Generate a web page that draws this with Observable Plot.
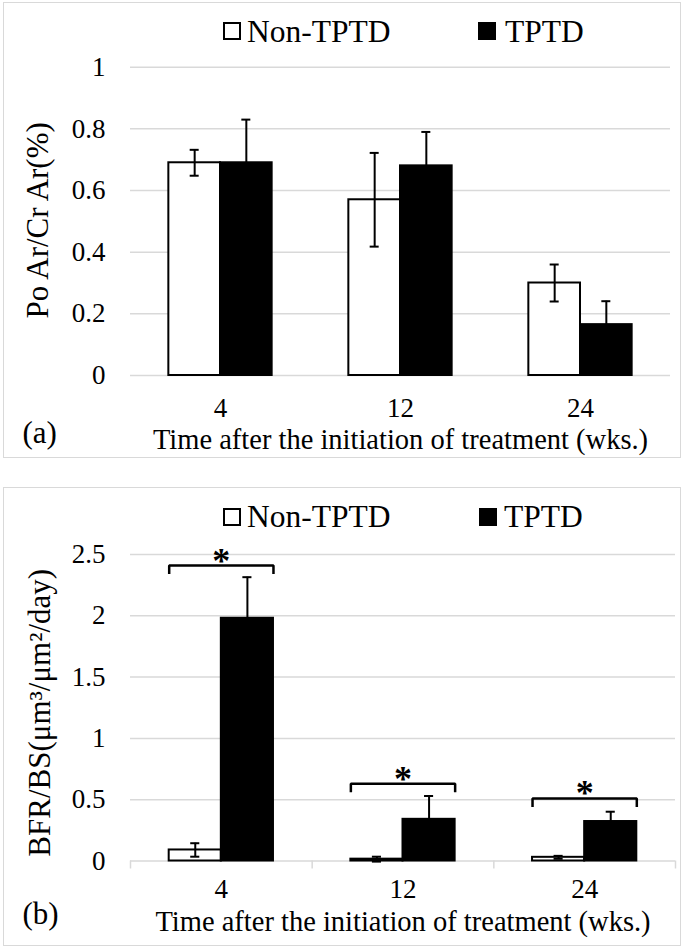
<!DOCTYPE html>
<html><head><meta charset="utf-8">
<script src="https://cdn.jsdelivr.net/npm/d3@7"></script>
<script src="https://cdn.jsdelivr.net/npm/@observablehq/plot@0.6"></script>
<style>
html,body{margin:0;padding:0;background:#fff;}
body{width:685px;height:949px;position:relative;overflow:hidden;font-family:"Liberation Serif","Tinos","Times New Roman","DejaVu Serif",serif;color:#000;}
svg text{font-family:"Liberation Serif","Tinos","Times New Roman","DejaVu Serif",serif;}
.frame{position:absolute;border:1.5px solid #d9d9d9;box-sizing:border-box;pointer-events:none;}
.sw{position:absolute;width:18px;height:18px;box-sizing:border-box;border:2px solid #000;}
.lt{position:absolute;font-size:31.5px;line-height:31px;white-space:nowrap;}
</style></head><body>
<script>
// ---- data ----
const weeks = ["4", "12", "24"];
const groups = ["Non-TPTD", "TPTD"];
const yTicksA = [0, 0.2, 0.4, 0.6, 0.8, 1];
const yTicksB = [0, 0.5, 1, 1.5, 2, 2.5];
const poNonMean = [0.69, 0.57, 0.30];
const poNonErr = [0.042, 0.152, 0.06];
const poTptdMean = [0.69, 0.68, 0.165];
const poTptdErr = [0.14, 0.11, 0.076];
const bfrNonMean = [0.09, 0.015, 0.03];
const bfrNonErr = [0.055, 0.02, 0.012];
const bfrTptdMean = [1.98, 0.34, 0.322];
const bfrTptdErr = [0.335, 0.19, 0.08];
const sigLevel = [2.41, 0.63, 0.51];
const sigMark = ["*", "*", "*"];
const yTitleA = "Po Ar/Cr Ar(%)";
const yTitleB = "BFR/BS(μm³/μm²/day)";
const xTitle = "Time after the initiation of treatment (wks.)";
const tags = ["(a)", "(b)"];

// ---- layout constants (style) ----
const barW = 0.287, capHalf = 0.025, legLen = 0.07;
const FONT = "'Liberation Serif', 'Tinos', 'Times New Roman', 'DejaVu Serif', serif";

function buildRows(nonMean, nonErr, tMean, tErr) {
  const rows = [];
  weeks.forEach((w, i) => {
    rows.push({i, week: w, group: groups[0], x1: i + 0.5 - barW, x2: i + 0.5, mean: nonMean[i], err: nonErr[i]});
    rows.push({i, week: w, group: groups[1], x1: i + 0.5, x2: i + 0.5 + barW, mean: tMean[i], err: tErr[i]});
  });
  rows.forEach(r => r.xc = (r.x1 + r.x2) / 2);
  return rows;
}

function makePanel(o) {
  const rows = o.rows;
  const marks = [Plot.ruleY(o.yTicks, {stroke: "#d9d9d9", strokeWidth: 1.5})];
  if (o.boundaryTicks) {
    marks.push(Plot.axisX(d3.range(weeks.length + 1), {tickSize: 8, tickFormat: () => "", stroke: "#d9d9d9", strokeWidth: 1.5, label: null}));
  }
  marks.push(
    Plot.axisY(o.yTicks, {tickSize: 0, tickPadding: 25, fontSize: 27, fontFamily: FONT, tickFormat: d => String(d), label: null}),
    Plot.axisX(weeks.map((w, i) => i + 0.5), {tickSize: 0, tickPadding: o.xTickPad, fontSize: 27, fontFamily: FONT, tickFormat: d => weeks[Math.floor(d)], label: null}),
    Plot.rectY(rows.filter(r => r.group === groups[0]), {x1: "x1", x2: "x2", y1: 0, y2: "mean", fill: "white", stroke: "black", strokeWidth: 2}),
    Plot.rectY(rows.filter(r => r.group === groups[1]), {x1: "x1", x2: "x2", y1: 0, y2: "mean", fill: "black", stroke: "black", strokeWidth: 2}),
    Plot.ruleX(rows, {x: "xc", y1: d => d.mean - d.err, y2: d => d.mean + d.err, stroke: "black", strokeWidth: 2}),
    Plot.ruleY(rows, {y: d => d.mean + d.err, x1: d => d.xc - capHalf, x2: d => d.xc + capHalf, stroke: "black", strokeWidth: 2}),
    Plot.ruleY(rows, {y: d => d.mean - d.err, x1: d => d.xc - capHalf, x2: d => d.xc + capHalf, stroke: "black", strokeWidth: 2}),
    Plot.text([o.yTitle], {frameAnchor: "left", rotate: -90, textAnchor: "middle", lineAnchor: "bottom", dx: o.yTitleDx, dy: o.yTitleDy, fontSize: 31, fontFamily: FONT}),
    Plot.text([xTitle], {frameAnchor: "bottom", lineAnchor: "bottom", dy: o.xTitleDy, fontSize: 28.5, fontFamily: FONT}),
    Plot.text([o.tag], {frameAnchor: "bottom-left", textAnchor: "start", lineAnchor: "bottom", dx: -108, dy: o.tagDy, fontSize: 31, fontFamily: FONT})
  );
  if (o.sig) {
    const pts = [];
    o.sig.forEach((lv, i) => {
      const a = i + 0.5 - barW, b = i + 0.5 + barW;
      pts.push({i, x: a, y: lv - legLen}, {i, x: a, y: lv}, {i, x: b, y: lv}, {i, x: b, y: lv - legLen});
    });
    marks.push(
      Plot.line(pts, {x: "x", y: "y", z: "i", stroke: "black", strokeWidth: 2.5, strokeLinejoin: "miter", strokeLinecap: "butt"}),
      Plot.text(o.sig.map((lv, i) => ({x: i + 0.5, y: lv, t: sigMark[i]})), {x: "x", y: "y", text: "t", lineAnchor: "bottom", dy: 7, fontSize: 36, fontWeight: "bold", fontFamily: FONT, fill: "black"})
    );
  }
  const svg = Plot.plot({
    width: 685, height: o.height,
    marginLeft: 130, marginRight: o.marginRight, marginTop: o.marginTop, marginBottom: o.marginBottom,
    x: {domain: [0, weeks.length]},
    y: {domain: [0, o.yTicks[o.yTicks.length - 1]]},
    style: {fontFamily: FONT, fontSize: "27px", color: "#000", background: "transparent", overflow: "visible"},
    marks
  });
  svg.style.position = "absolute";
  svg.style.left = "0px";
  svg.style.top = o.top + "px";
  return svg;
}

function legend(top, baseline, xs) {
  const frag = document.createDocumentFragment();
  groups.forEach((g, k) => {
    const sw = document.createElement("div");
    sw.className = "sw";
    sw.style.left = xs[k][0] + "px";
    sw.style.top = top + "px";
    sw.style.background = k === 0 ? "#fff" : "#000";
    frag.appendChild(sw);
    const t = document.createElement("div");
    t.className = "lt";
    t.textContent = g;
    t.style.left = xs[k][1] + "px";
    t.style.top = (baseline - 26) + "px";
    frag.appendChild(t);
  });
  return frag;
}

const body = document.body;
body.appendChild(legend(22, 41.7, [[223, 247], [478, 505]]));
body.appendChild(makePanel({
  rows: buildRows(poNonMean, poNonErr, poTptdMean, poTptdErr),
  yTicks: yTicksA, yTitle: yTitleA, tag: tags[0],
  top: 48, height: 410, marginTop: 18.7, marginBottom: 83, marginRight: 15,
  xTickPad: 22, xTitleDy: 73.5, tagDy: 67, yTitleDx: -82.5, yTitleDy: -1, boundaryTicks: false
}));
body.appendChild(legend(508, 527, [[223, 247], [479, 504]]));
body.appendChild(makePanel({
  rows: buildRows(bfrNonMean, bfrNonErr, bfrTptdMean, bfrTptdErr),
  yTicks: yTicksB, yTitle: yTitleB, tag: tags[1],
  top: 533, height: 414, marginTop: 21, marginBottom: 86.5, marginRight: 10,
  xTickPad: 18, xTitleDy: 69.5, tagDy: 63, yTitleDx: -81, yTitleDy: 5, boundaryTicks: true, sig: sigLevel
}));
[[3, 2, 678, 456], [3, 487, 678, 459]].forEach(([l, t, w, h]) => {
  const f = document.createElement("div");
  f.className = "frame";
  Object.assign(f.style, {left: l + "px", top: t + "px", width: w + "px", height: h + "px"});
  body.appendChild(f);
});
</script>
</body></html>
